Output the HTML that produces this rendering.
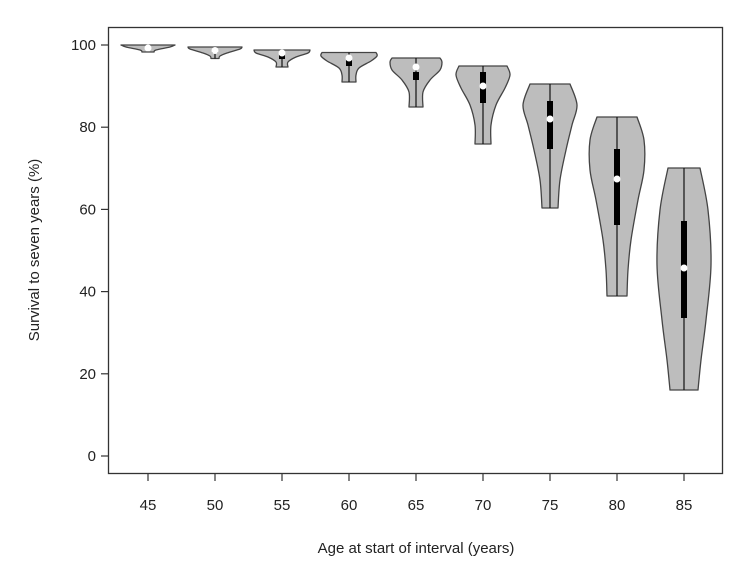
<!DOCTYPE html><html><head><style>body{margin:0;background:#fff}</style></head><body>
<svg width="740" height="561" viewBox="0 0 740 561" font-family="Liberation Sans, sans-serif" fill="#222">
<rect x="108.5" y="27.5" width="614" height="446" fill="none" stroke="#333" stroke-width="1.3"/>
<text x="416" y="553" text-anchor="middle" font-size="15">Age at start of interval (years)</text>
<text transform="translate(39,250) rotate(-90)" text-anchor="middle" font-size="15">Survival to seven years (%)</text>
<script>
var NS="http://www.w3.org/2000/svg",svg=document.querySelector('svg');
function el(t,a,txt){var e=document.createElementNS(NS,t);for(var k in a)e.setAttribute(k,a[k]);if(txt!=null)e.textContent=txt;svg.appendChild(e);return e;}
for(var v=0;100>=v;v+=20){var y=456-v*4.11;el('line',{x1:101,x2:108,y1:y,y2:y,stroke:'#333','stroke-width':1.2});el('text',{x:96,y:y+5,'text-anchor':'end','font-size':15},v);}
function cr(pts){var s='',n=pts.length;for(var i=0;n-1>i;i++){var p0=pts[Math.max(i-1,0)],p1=pts[i],p2=pts[i+1],p3=pts[Math.min(i+2,n-1)];
var c1=[p1[0]+(p2[0]-p0[0])/6,p1[1]+(p2[1]-p0[1])/6],c2=[p2[0]-(p3[0]-p1[0])/6,p2[1]-(p3[1]-p1[1])/6];
s+='C'+c1.join(',')+' '+c2.join(',')+' '+p2.join(',');}return s;}
var V=[
[148,[[45,27],[47,22],[50,8],[52,6]],48,null],
[215,[[47,27],[49,25],[53,12],[56,5],[58.5,4]],50.5,[51,53]],
[282,[[50,28],[53,26],[57,14],[62,6],[67,6]],53,[55,59]],
[349,[[52.5,27],[56,28],[61,22],[68,10],[75,7],[82,7]],58,[60,66]],
[416,[[58,24],[62,26],[70,24],[80,14],[92,7],[107,7]],67,[72,80]],
[483,[[66,24],[75,27],[88,22],[105,13],[125,8],[144,8]],86,[72,103]],
[550,[[84,20],[105,27],[125,22],[150,16],[180,10],[208,8]],119,[101,149]],
[617,[[117,20],[140,27],[170,27],[200,21],[240,14],[270,11],[296,10]],179,[149,225]],
[684,[[168,16],[210,24],[265,27],[320,22],[360,17],[390,14]],268,[221,318]]];
V.forEach(function(d,i){var x=d[0],p=d[1],n=p.length;
var R=p.map(function(q){return [x+q[1],q[0]];}),L=p.map(function(q){return [x-q[1],q[0]];}).reverse();
var s='M'+R[0].join(',')+cr(R)+'L'+L[0].join(',')+cr(L)+'Z';
el('path',{d:s,fill:'#bdbdbd',stroke:'#444','stroke-width':1.3,'stroke-linejoin':'round'});
el('line',{x1:x,x2:x,y1:p[0][0],y2:p[n-1][0],stroke:'#111','stroke-width':1.2});
if(d[3])el('rect',{x:x-3,y:d[3][0],width:6,height:d[3][1]-d[3][0],fill:'#000'});
el('circle',{cx:x,cy:d[2],r:3.5,fill:'#fff'});
el('line',{x1:x,x2:x,y1:474,y2:481,stroke:'#333','stroke-width':1.2});
el('text',{x:x,y:510,'text-anchor':'middle','font-size':15},45+5*i);});
</script>
</svg></body></html>
